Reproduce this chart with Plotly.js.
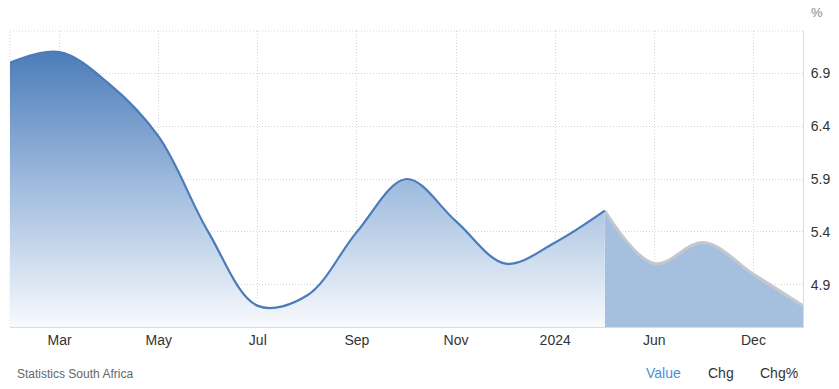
<!DOCTYPE html>
<html>
<head>
<meta charset="utf-8">
<script src="https://cdn.plot.ly/plotly-3.0.1.min.js"></script>
<style>
  html, body { margin: 0; padding: 0; background: #fff; }
  #chart { width: 839px; height: 389px; }
</style>
</head>
<body>
<div id="chart"></div>
<script>
// Periods (category positions), monthly history then quarterly forecast
const periods = ["Feb 2023","Mar 2023","Apr 2023","May 2023","Jun 2023","Jul 2023","Aug 2023","Sep 2023","Oct 2023","Nov 2023","Dec 2023","Jan 2024","Feb 2024","Jun 2024","Sep 2024","Dec 2024","Mar 2025"];
const historyValues = [7.0, 7.1, 6.8, 6.3, 5.4, 4.7, 4.8, 5.4, 5.9, 5.5, 5.1, 5.3, 5.6];
const forecastValues = [5.6, 5.1, 5.3, 5.0, 4.7];
const tickPositions = [1, 3, 5, 7, 9, 11, 13, 15];
const tickLabels = ["Mar","May","Jul","Sep","Nov","2024","Jun","Dec"];
const yTicks = [4.9, 5.4, 5.9, 6.4, 6.9];

const histX = historyValues.map((v, i) => i);
const foreX = forecastValues.map((v, i) => historyValues.length - 1 + i);

const font = "Liberation Sans, Arial, sans-serif";
const gridDash = "1px,2px";
const gridColor = "#d6d6d6";

const traces = [
  {
    x: foreX, y: forecastValues, type: "scatter", mode: "lines",
    line: { shape: "spline", color: "#c3c8cf", width: 3 },
    fill: "tozeroy", fillcolor: "#a5c0df",
    hoverinfo: "skip"
  },
  {
    x: histX, y: historyValues, type: "scatter", mode: "lines",
    line: { shape: "spline", color: "#4b7bb8", width: 2.2 },
    fill: "tozeroy",
    fillgradient: {
      type: "vertical", start: 4.5, stop: 7.15,
      colorscale: [[0, "rgba(248,250,253,1)"], [0.5, "rgba(160,188,222,1)"], [1, "rgba(74,122,184,1)"]]
    },
    hoverinfo: "skip"
  }
];

const layout = {
  width: 839, height: 389,
  margin: { l: 10, r: 36, t: 31, b: 62 },
  paper_bgcolor: "#fff", plot_bgcolor: "#fff",
  showlegend: false,
  font: { family: font, color: "#333", size: 14 },
  xaxis: {
    range: [0, 16], tickvals: tickPositions, ticktext: tickLabels,
    showgrid: true, gridcolor: gridColor, griddash: gridDash, gridwidth: 1,
    showline: true, linecolor: "#dcdcdc", linewidth: 1,
    ticks: "", zeroline: false, fixedrange: true,
    tickfont: { family: font, size: 14, color: "#333" }
  },
  yaxis: {
    range: [4.5, 7.3], side: "right", tickvals: yTicks,
    ticktext: yTicks.map(v => v.toFixed(1)),
    showgrid: true, gridcolor: gridColor, griddash: gridDash, gridwidth: 1,
    showline: true, linecolor: "#dcdcdc", linewidth: 1,
    ticks: "", ticklabelstandoff: 4, zeroline: false, fixedrange: true,
    tickfont: { family: font, size: 14, color: "#333" }
  },
  shapes: [
    { type: "line", xref: "paper", yref: "paper", x0: 0, x1: 1, y0: 1, y1: 1,
      line: { color: gridColor, width: 1, dash: gridDash }, layer: "below" },
    { type: "line", xref: "paper", yref: "paper", x0: 0, x1: 0, y0: 0, y1: 1,
      line: { color: gridColor, width: 1, dash: gridDash }, layer: "below" }
  ],
  annotations: [
    { text: "%", xref: "paper", yref: "paper", x: 1.0177, y: 1.064, showarrow: false,
      xanchor: "center", yanchor: "middle", font: { family: font, size: 13, color: "#888" } },
    { text: "Statistics South Africa", xref: "paper", yref: "paper", x: 0.0063, y: -0.159,
      showarrow: false, xanchor: "left", yanchor: "middle", font: { family: font, size: 12, color: "#666" } },
    { text: "Value", xref: "paper", yref: "paper", x: 0.8235, y: -0.155, showarrow: false,
      xanchor: "center", yanchor: "middle", font: { family: font, size: 14, color: "#4a90d9" } },
    { text: "Chg", xref: "paper", yref: "paper", x: 0.8966, y: -0.155, showarrow: false,
      xanchor: "center", yanchor: "middle", font: { family: font, size: 14, color: "#333" } },
    { text: "Chg%", xref: "paper", yref: "paper", x: 0.9697, y: -0.155, showarrow: false,
      xanchor: "center", yanchor: "middle", font: { family: font, size: 14, color: "#333" } }
  ]
};

Plotly.newPlot("chart", traces, layout, { displayModeBar: false, staticPlot: true });
</script>
</body>
</html>
